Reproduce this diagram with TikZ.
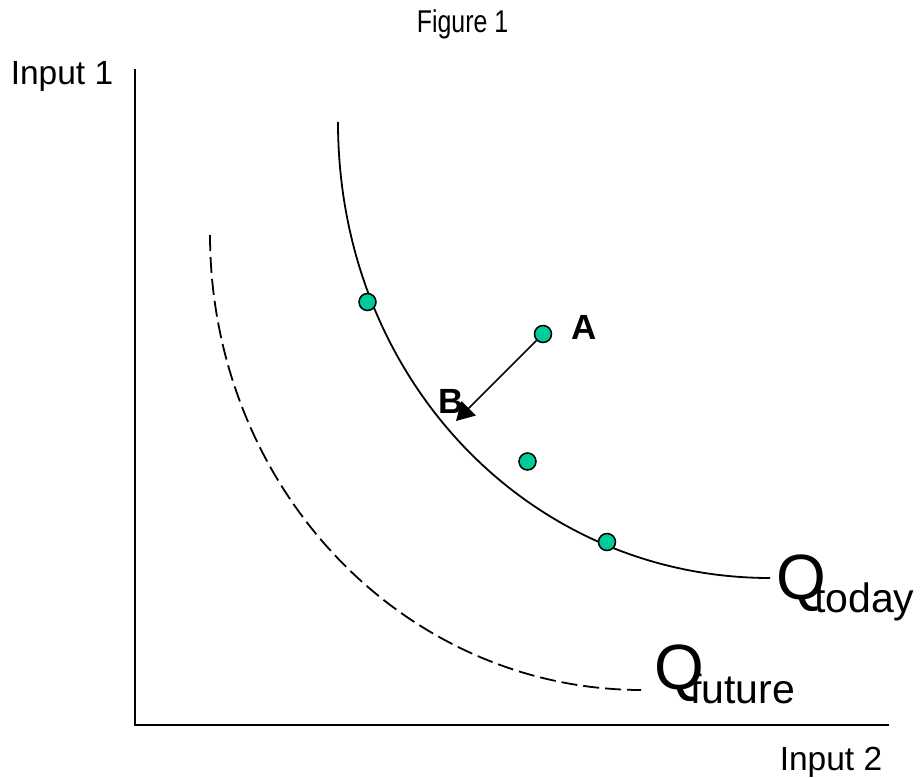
\documentclass[tikz,border=0pt]{standalone}
\usepackage{fontspec}
\setmainfont{Liberation Sans}
\usetikzlibrary{arrows.meta}
\definecolor{dotgreen}{RGB}{0,204,153}
\tikzset{
  axis/.style={line width=2.5pt, line cap=rect},
  qcurve/.style={line width=1.8pt},
  qdash/.style={line width=1.8pt, dash pattern=on 16pt off 6pt},
  dot/.style={circle, minimum size=17pt, inner sep=0pt, fill=dotgreen, draw=black, line width=1.5pt},
  axislabel/.style={inner sep=0pt, anchor=base, font=\fontsize{33.5}{38}\selectfont},
  ptlabel/.style={inner sep=0pt, anchor=base, font=\fontsize{35}{40}\selectfont\bfseries},
  bigq/.style={inner sep=0pt, anchor=base west, font=\fontsize{64}{72}\selectfont},
  subq/.style={inner sep=0pt, anchor=base west, font=\fontsize{41}{46}\selectfont},
  arrowline/.style={line width=1.6pt, -{Triangle[length=18pt,width=20pt]}}
}
\begin{document}
\begin{tikzpicture}[x=1pt,y=-1pt]
\useasboundingbox (0,0) rectangle (921,778);
% title
\node[inner sep=0pt, anchor=base] (title) at (462.5,32.7) {\fontsize{31.5}{36}\selectfont\scalebox{0.79}[1]{Figure 1}};
% axes
\coordinate (top) at (135,70);
\coordinate (origin) at (135,725);
\coordinate (right) at (888,725);
\draw[axis] (top) -- (origin) -- (right);
\node[axislabel] (in1) at (62,85) {Input 1};
\node[axislabel] (in2) at (831,770) {Input 2};
% curves
\draw[qcurve] (338,122) .. controls (338,380) and (530,578) .. (770,578);
\draw[qdash] plot[domain=0:90, samples=80, variable=\t] ({641-431*cos(\t)}, {235+455*sin(\t)});
% labels
\node[bigq] (qt) at (776,599) {Q};
\node[subq] (qtsub) at (814,612) {today};
\node[bigq] (qf) at (654,689) {Q};
\node[subq] (qfsub) at (690,703) {future};
% points
\node[ptlabel] (labB) at (451,413) {B};
\node[dot] (d1) at (367.5,302) {};
\node[dot] (A) at (543,334) {};
\node[dot] (d3) at (527.5,461.5) {};
\node[dot] (d4) at (607,542) {};
\node[ptlabel] (labA) at (584,339.5) {A};
\coordinate (Btip) at (456,421);
\draw[arrowline] (A) -- (Btip);
\end{tikzpicture}
\end{document}
